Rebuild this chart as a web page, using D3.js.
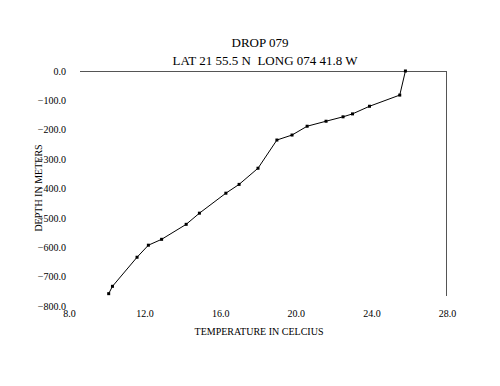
<!DOCTYPE html>
<meta charset="utf-8">
<style>
body { margin: 0; background: #fff; }
text { font-family: "Liberation Serif", "Times New Roman", serif; fill: #000; }
.tick text { font-size: 10px; }
</style>
<body>
<script src="https://d3js.org/d3.v7.min.js"></script>
<script>

// temperature (C) and depth (m)
var temps  = [25.8, 25.5, 23.9, 23.0, 22.5, 21.6, 20.6, 19.8, 19.0, 18.0, 17.0, 16.3, 14.9, 14.2, 12.9, 12.2, 11.6, 10.3, 10.1];
var depths = [0, -82, -120, -146, -156, -171, -188, -218, -235, -331, -386, -416, -484, -522, -573, -593, -634, -733, -758];
var xTicks = [8, 12, 16, 20, 24, 28];
var yTicks = [0, -100, -200, -300, -400, -500, -600, -700, -800];

var data = temps.map(function(t, i) { return {t: t, d: depths[i]}; });

var width = 500, height = 386;

var x = d3.scaleLinear().domain([8, 28]).range([69, 447]);
var y = d3.scaleLinear().domain([-800, 0]).range([306, 71]);

var svg = d3.select("body").append("svg")
    .attr("width", width)
    .attr("height", height);

// titles
svg.append("text")
    .attr("x", 260).attr("y", 47)
    .attr("text-anchor", "middle")
    .style("font-size", "13px")
    .text("DROP 079");
svg.append("text")
    .attr("x", 265).attr("y", 65)
    .attr("text-anchor", "middle")
    .style("font-size", "13px")
    .style("white-space", "pre")
    .text("LAT 21 55.5 N  LONG 074 41.8 W");

// frame lines: top (at depth 0) and right (at 28 C)
svg.append("line")
    .attr("x1", 80).attr("x2", x(28))
    .attr("y1", y(0) + 0.5).attr("y2", y(0) + 0.5)
    .attr("stroke", "#555");
svg.append("line")
    .attr("x1", x(28) - 0.5).attr("x2", x(28) - 0.5)
    .attr("y1", y(0)).attr("y2", 296)
    .attr("stroke", "#555");

// y tick labels
var yAxis = svg.append("g")
    .attr("transform", "translate(66,0)")
    .call(d3.axisLeft(y).tickValues(yTicks).tickSize(0).tickPadding(0)
      .tickFormat(d3.format(".1f")));
yAxis.select(".domain").remove();

// x tick labels
var xAxis = svg.append("g")
    .attr("transform", "translate(0,310)")
    .call(d3.axisBottom(x).tickValues(xTicks).tickSize(0).tickPadding(0)
      .tickFormat(d3.format(".1f")));
xAxis.select(".domain").remove();

// axis titles
svg.append("text")
    .attr("x", 259).attr("y", 335)
    .attr("text-anchor", "middle")
    .style("font-size", "10px")
    .text("TEMPERATURE IN CELCIUS");
svg.append("text")
    .attr("transform", "translate(42,188) rotate(-90)")
    .attr("text-anchor", "middle")
    .style("font-size", "10px")
    .text("DEPTH IN METERS");

// profile line
svg.append("path")
    .datum(data)
    .attr("fill", "none")
    .attr("stroke", "#000")
    .attr("stroke-width", 1)
    .attr("d", d3.line().x(function(d) { return x(d.t); }).y(function(d) { return y(d.d); }));

// markers
svg.selectAll(".pt")
    .data(data)
  .enter().append("rect")
    .attr("class", "pt")
    .attr("x", function(d) { return x(d.t) - 1.5; })
    .attr("y", function(d) { return y(d.d) - 1.5; })
    .attr("width", 3)
    .attr("height", 3)
    .attr("fill", "#000");

</script>
</body>
